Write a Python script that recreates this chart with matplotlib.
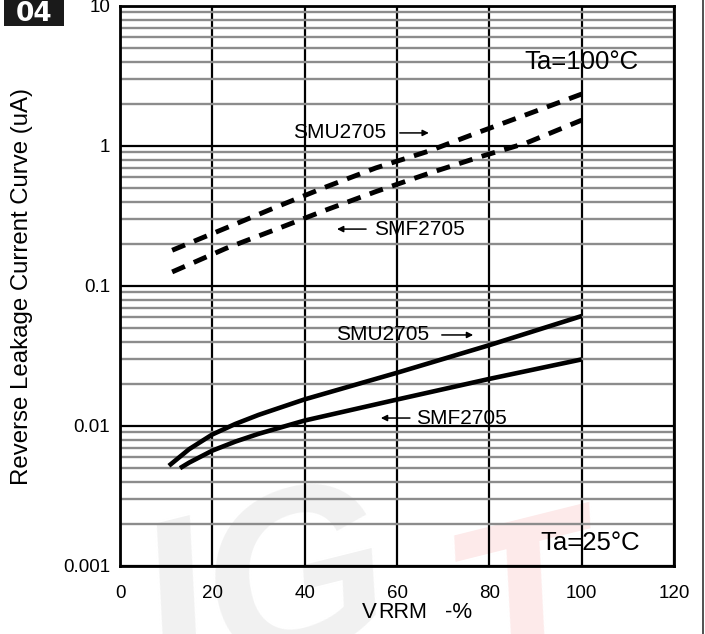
import matplotlib
matplotlib.use("Agg")
import matplotlib.pyplot as plt
import numpy as np
from matplotlib.ticker import LogLocator, NullFormatter, FixedLocator, FixedFormatter
from matplotlib.lines import Line2D
from matplotlib.patches import Rectangle

plt.rcParams['font.family'] = ['Liberation Sans', 'DejaVu Sans']
plt.rcParams['lines.scale_dashes'] = False

# ---- data ----
# Ta = 100 C (dashed)
smu100_x = [11.3, 23.0, 33.8, 44.6, 55.4, 66.9, 77.3, 87.7, 100]
smu100_y = [0.18, 0.26, 0.366, 0.51, 0.697, 0.92, 1.24, 1.66, 2.35]
smf100_x = [11.3, 23.0, 33.8, 44.6, 55.4, 66.9, 78.6, 88.0, 100]
smf100_y = [0.126, 0.186, 0.254, 0.349, 0.472, 0.638, 0.849, 1.05, 1.53]
# Ta = 25 C (solid)
smu25_x = [10.6, 15, 20, 25, 30, 40, 60, 80, 100]
smu25_y = [0.0052, 0.00684, 0.0087, 0.01035, 0.0120, 0.0155, 0.024, 0.0378, 0.061]
smf25_x = [13.0, 15, 20, 25, 30, 40, 60, 80, 100]
smf25_y = [0.0050, 0.00548, 0.00667, 0.00774, 0.00879, 0.01094, 0.01545, 0.0217, 0.0299]

x_ticks = [0, 20, 40, 60, 80, 100, 120]
y_ticks = [0.001, 0.01, 0.1, 1, 10]
y_tick_labels = ['0.001', '0.01', '0.1', '1', '10']

W, H = 705, 634
fig = plt.figure(figsize=(W / 100, H / 100), dpi=100)

# faint watermark
fig.text(0.17, -0.16, 'IG', fontsize=170, fontweight='bold', style='italic',
         color='#f1f1f1', rotation=14, ha='left', va='bottom', zorder=0)
fig.text(0.61, -0.17, 'T', fontsize=170, fontweight='bold', style='italic',
         color='#fdeaea', rotation=14, ha='left', va='bottom', zorder=0)

ax = fig.add_axes([120 / W, 1 - 566 / H, 554 / W, 560 / H])
ax.set_zorder(2)
ax.set_facecolor('none')
ax.set_yscale('log')
ax.set_xlim(0, 120)
ax.set_ylim(0.001, 10)

ax.xaxis.set_major_locator(FixedLocator(x_ticks))
ax.yaxis.set_major_locator(FixedLocator(y_ticks))
ax.yaxis.set_major_formatter(FixedFormatter(y_tick_labels))
ax.yaxis.set_minor_locator(LogLocator(base=10, subs=np.arange(2, 10)))
ax.yaxis.set_minor_formatter(NullFormatter())
ax.tick_params(axis='both', which='both', length=0, labelsize=13.5)
ax.tick_params(axis='x', pad=14)
ax.tick_params(axis='y', pad=7)

ax.grid(True, which='minor', axis='y', color='#8c8c8c', lw=1.7, zorder=1)
ax.grid(True, which='major', axis='y', color='black', lw=1.6, zorder=2)
ax.grid(True, which='major', axis='x', color='black', lw=1.6, zorder=2)
for s in ax.spines.values():
    s.set_linewidth(2.0)
    s.set_zorder(5)

ax.plot(smu100_x, smu100_y, color='black', lw=3.5, dashes=(10, 7), zorder=4)
ax.plot(smf100_x, smf100_y, color='black', lw=3.5, dashes=(10, 7), zorder=4)
ax.plot(smu25_x, smu25_y, color='black', lw=3.3, zorder=4, solid_capstyle='butt',
        solid_joinstyle='round')
ax.plot(smf25_x, smf25_y, color='black', lw=3.3, zorder=4, solid_capstyle='butt',
        solid_joinstyle='round')

fs = 15
arrow = dict(arrowstyle='-|>', color='black', lw=1.1, mutation_scale=9,
             shrinkA=0, shrinkB=0)
# upper SMU
ax.text(57.6, 1.24, 'SMU2705', ha='right', va='center', fontsize=fs, zorder=6)
ax.annotate('', xy=(66.9, 1.24), xytext=(60.6, 1.24), arrowprops=arrow, zorder=6)
# upper SMF
ax.annotate('', xy=(47.0, 0.255), xytext=(53.3, 0.255), arrowprops=arrow, zorder=6)
ax.text(55.0, 0.255, 'SMF2705', ha='left', va='center', fontsize=fs, zorder=6)
# lower SMU
ax.text(66.9, 0.0447, 'SMU2705', ha='right', va='center', fontsize=fs, zorder=6)
ax.annotate('', xy=(76.5, 0.0447), xytext=(69.7, 0.0447), arrowprops=arrow, zorder=6)
# lower SMF
ax.annotate('', xy=(56.5, 0.0114), xytext=(62.8, 0.0114), arrowprops=arrow, zorder=6)
ax.text(64.1, 0.0114, 'SMF2705', ha='left', va='center', fontsize=fs, zorder=6)

ax.text(87.6, 3.98, 'Ta=100°C', ha='left', va='center', fontsize=18.5, zorder=6)
ax.text(91.0, 0.00146, 'Ta=25°C', ha='left', va='center', fontsize=18.5, zorder=6)

# axis labels
fig.text(22 / W, 1 - 286 / H, 'Reverse Leakage Current Curve (uA)', rotation=90,
         ha='center', va='center', fontsize=17.3)
yl = 1 - 613 / H
fig.text(362 / W, yl, 'V', ha='left', va='center', fontsize=16)
fig.text(378 / W, yl, 'RRM', ha='left', va='center', fontsize=15.5)
fig.text(445 / W, yl, '-%', ha='left', va='center', fontsize=16)

# "04" tag
fig.add_artist(Rectangle((4 / W, 1 - 26 / H), 60 / W, 26 / H, transform=fig.transFigure,
                         facecolor='#1a1a1a', edgecolor='none', zorder=3))
fig.text(34 / W, 1 - 14 / H, '04', ha='center', va='center', color='white',
         fontsize=19, fontweight='bold', family=['Liberation Sans Narrow', 'DejaVu Sans'],
         zorder=4)

# page border on the right
fig.add_artist(Line2D([702.5 / W, 702.5 / W], [0, 1], transform=fig.transFigure,
                      color='#333333', lw=1.2))

fig.savefig('out.png', dpi=100)
